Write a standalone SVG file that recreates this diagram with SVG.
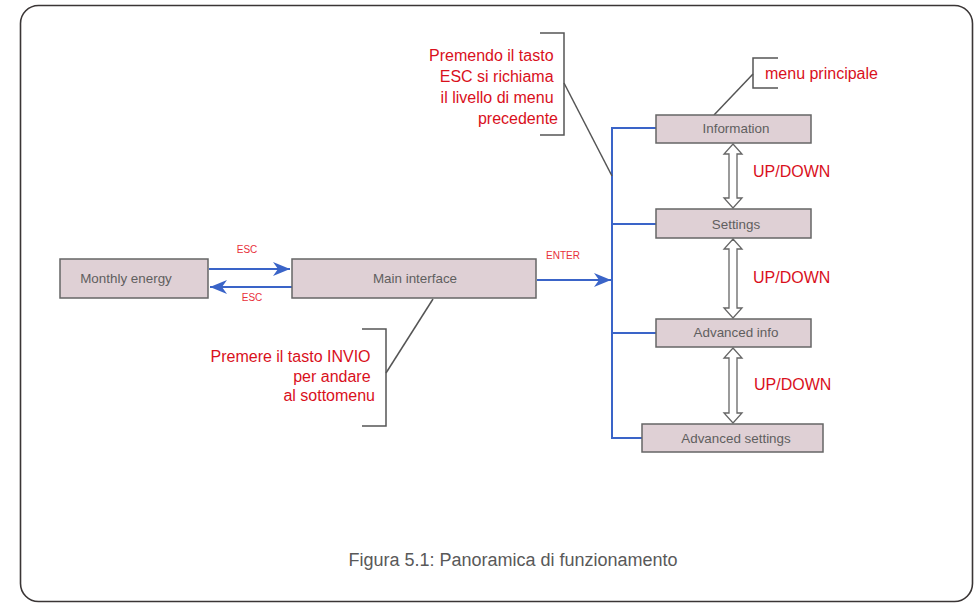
<svg xmlns="http://www.w3.org/2000/svg" width="976" height="603" viewBox="0 0 976 603">
<style>
.box{fill:#dfd0d5;stroke:#666;stroke-width:1.5}
.bl{font-family:"Liberation Sans",Arial,sans-serif;font-size:13.4px;fill:#5f5f5f;text-anchor:middle}
.red{font-family:"Liberation Sans",Arial,sans-serif;font-size:16px;fill:#d9101c}
.sm{font-family:"Liberation Sans",Arial,sans-serif;font-size:10px;fill:#e8303a}
.blue{stroke:#3a64c8;stroke-width:2;fill:none}
.gray{stroke:#555;stroke-width:1.5;fill:none}
.dbl{fill:#fff;stroke:#666;stroke-width:1.3}
</style>
<defs>
<marker id="ah" markerWidth="18" markerHeight="14" refX="17" refY="7" orient="auto" markerUnits="userSpaceOnUse">
<path d="M0,0 L17,7 L0,14 L5,7 Z" fill="#3a64c8"/>
</marker>
</defs>
<rect x="20.5" y="5.5" width="952" height="596" rx="18" fill="#fff" stroke="#3a3535" stroke-width="1.6"/>

<g id="connectors">
<line class="blue" x1="209" y1="269" x2="290" y2="269" marker-end="url(#ah)"/>
<line class="blue" x1="292" y1="287" x2="210" y2="287" marker-end="url(#ah)"/>
<line class="blue" x1="537" y1="280" x2="611" y2="280" marker-end="url(#ah)"/>
<polyline class="blue" points="656,128 612,128 612,438 642,438"/>
<line class="blue" x1="612" y1="224" x2="656" y2="224"/>
<line class="blue" x1="612" y1="333" x2="656" y2="333"/>
<polygon class="dbl" points="733,144 742,154 737,154 737,198 742,198 733,208 724,198 729,198 729,154 724,154"/>
<polygon class="dbl" points="733,239 742,249 737,249 737,308 742,308 733,318 724,308 729,308 729,249 724,249"/>
<polygon class="dbl" points="733,348 742,358 737,358 737,413 742,413 733,423 724,413 729,413 729,358 724,358"/>
<polyline class="gray" points="540,33 564,33 564,135 540,135"/>
<line class="gray" x1="564" y1="83" x2="612" y2="176"/>
<polyline class="gray" points="362,329 386,329 386,426 362,426"/>
<line class="gray" x1="386" y1="373" x2="433" y2="299"/>
<polyline class="gray" points="778,58 753,58 753,88 778,88"/>
<line class="gray" x1="753" y1="74" x2="714" y2="115"/>
</g>

<g id="monthly-energy">
<rect class="box" x="60" y="259" width="148" height="39"/>
<text class="bl" x="126" y="283">Monthly energy</text>
</g>
<g id="main-interface">
<rect class="box" x="292" y="259" width="244" height="39"/>
<text class="bl" x="415" y="283">Main interface</text>
</g>
<g id="information">
<rect class="box" x="656" y="115" width="155" height="28"/>
<text class="bl" x="736" y="133">Information</text>
</g>
<g id="settings">
<rect class="box" x="656" y="209" width="155" height="29"/>
<text class="bl" x="736" y="229">Settings</text>
</g>
<g id="advanced-info">
<rect class="box" x="656" y="319" width="155" height="28"/>
<text class="bl" x="736" y="337">Advanced info</text>
</g>
<g id="advanced-settings">
<rect class="box" x="642" y="424" width="181" height="28"/>
<text class="bl" x="736" y="443">Advanced settings</text>
</g>

<g id="labels">
<text class="sm" x="247" y="253" text-anchor="middle">ESC</text>
<text class="sm" x="252" y="301" text-anchor="middle">ESC</text>
<text class="sm" x="546" y="259">ENTER</text>
<text class="red" x="753" y="177">UP/DOWN</text>
<text class="red" x="753" y="283">UP/DOWN</text>
<text class="red" x="754" y="390">UP/DOWN</text>
<text class="red" x="765" y="79">menu principale</text>
<text class="red" text-anchor="end">
<tspan x="558" y="61">Premendo il tasto</tspan>
<tspan x="558" y="82">ESC si richiama</tspan>
<tspan x="558" y="103">il livello di menu</tspan>
<tspan x="558" y="124">precedente</tspan>
</text>
<text class="red" text-anchor="end">
<tspan x="375" y="362">Premere il tasto INVIO</tspan>
<tspan x="375" y="382">per andare</tspan>
<tspan x="375" y="401">al sottomenu</tspan>
</text>
<text x="513" y="566" text-anchor="middle" font-family="'Liberation Sans',Arial,sans-serif" font-size="18" fill="#595959">Figura 5.1: Panoramica di funzionamento</text>
</g>
</svg>
